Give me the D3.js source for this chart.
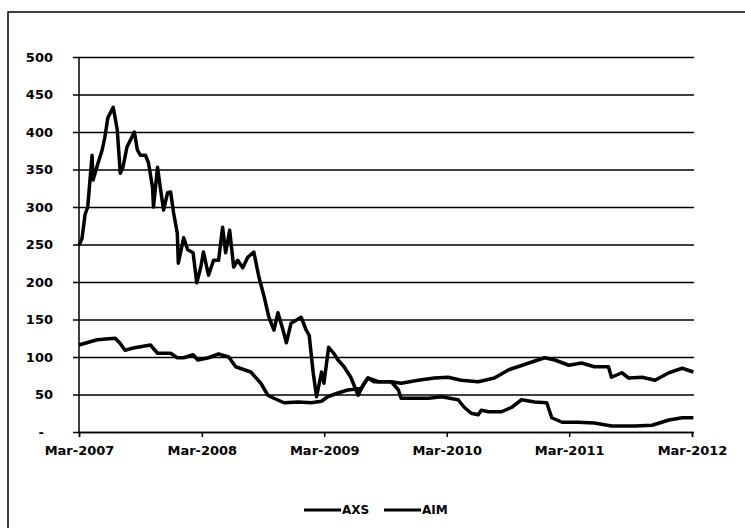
<!DOCTYPE html>
<html>
<head>
<meta charset="utf-8">
<script src="https://cdn.jsdelivr.net/npm/d3@7"></script>
<style>
  body { margin: 0; background: #fff; }
  text { font-family: "DejaVu Sans", Verdana, sans-serif; font-weight: bold; fill: #000; }
</style>
</head>
<body>
<div id="chart"></div>
<script>
// AXS closing levels
const axsDates = ["2007-03-01","2007-03-10","2007-03-19","2007-03-27","2007-04-09","2007-04-12","2007-04-27","2007-05-09","2007-05-17","2007-05-26",
  "2007-06-11","2007-06-23","2007-07-02","2007-07-10","2007-07-22","2007-08-01","2007-08-13","2007-08-22","2007-08-31","2007-09-15",
  "2007-09-24","2007-10-06","2007-10-09","2007-10-21","2007-10-29","2007-11-08","2007-11-20","2007-11-29","2007-12-08","2007-12-19",
  "2007-12-22","2008-01-07","2008-01-19","2008-02-04","2008-02-15","2008-02-27","2008-03-06","2008-03-21","2008-04-05","2008-04-20",
  "2008-05-02","2008-05-11","2008-05-23","2008-06-04","2008-06-16","2008-07-01","2008-07-16","2008-08-03","2008-08-18","2008-09-03",
  "2008-09-17","2008-10-02","2008-10-14","2008-10-29","2008-11-08","2008-11-22","2008-12-07","2008-12-22","2009-01-06","2009-01-15",
  "2009-01-27","2009-02-06","2009-02-21","2009-02-28","2009-03-14","2009-03-29","2009-04-11","2009-04-29","2009-05-19","2009-06-10",
  "2009-06-25","2009-07-09","2009-08-09","2009-09-17","2009-10-08","2009-10-16","2009-11-25","2010-01-06","2010-02-14","2010-04-04",
  "2010-04-22","2010-05-13","2010-06-03","2010-06-12","2010-07-03","2010-08-11","2010-09-11","2010-10-10","2010-11-18","2010-12-24",
  "2011-01-08","2011-02-08","2011-03-28","2011-05-15","2011-07-05","2011-09-13","2011-11-03","2011-12-23","2012-02-01","2012-03-05"];
const axsValues = [249,258,290,300,369,336,359,376,393,419,
  433,403,345,353,380,389,400,376,369,369,
  359,327,300,353,327,296,319,320,292,265,
  225,259,243,239,199,220,240,209,229,229,
  273,239,269,220,229,219,233,240,207,180,
  153,136,159,136,119,145,149,153,136,129,
  79,47,80,65,113,105,96,87,73,49,
  63,72,67,67,56,45,45,45,47,43,
  33,25,23,29,27,27,33,43,40,39,
  19,13,13,12,8,8,9,16,19,19];

// AIM closing levels
const aimDates = ["2007-03-01","2007-04-24","2007-06-17","2007-07-02","2007-07-16","2007-08-10","2007-09-30","2007-10-21","2007-11-29","2007-12-19",
  "2008-01-07","2008-02-04","2008-02-18","2008-03-21","2008-04-20","2008-05-20","2008-06-10","2008-07-25","2008-08-24","2008-09-14",
  "2008-10-02","2008-11-01","2008-12-13","2009-01-21","2009-02-21","2009-03-11","2009-04-11","2009-05-10","2009-06-19","2009-07-09",
  "2009-07-27","2009-09-17","2009-10-16","2009-12-06","2010-01-23","2010-03-05","2010-04-13","2010-06-03","2010-07-21","2010-09-02",
  "2010-11-01","2010-12-18","2011-01-17","2011-02-28","2011-04-07","2011-05-15","2011-06-26","2011-07-05","2011-08-05","2011-08-25",
  "2011-10-04","2011-11-12","2011-12-23","2012-02-01","2012-03-05"];
const aimValues = [116,123,125,118,109,112,116,105,105,99,
  99,103,96,99,104,100,87,80,65,49,
  45,39,40,39,41,47,52,56,58,72,
  67,67,65,69,72,73,69,67,72,83,
  92,99,96,89,92,87,87,73,79,72,
  73,69,79,85,80];

const seriesNames = ["AXS", "AIM"];
const yTicks = [0, 50, 100, 150, 200, 250, 300, 350, 400, 450, 500];
const xTickDates = ["2007-03-01","2008-03-01","2009-03-01","2010-03-01","2011-03-01","2012-03-01"];

const parse = d3.timeParse("%Y-%m-%d");
const axs = axsDates.map((d, i) => ({ date: parse(d), value: axsValues[i] }));
const aim = aimDates.map((d, i) => ({ date: parse(d), value: aimValues[i] }));

const width = 745, height = 528;
const margin = { top: 57, right: 53, bottom: 96, left: 79 };
const contentWidth = width - margin.left - margin.right;
const contentHeight = height - margin.top - margin.bottom;

const svg = d3.select("#chart").append("svg")
  .attr("width", width)
  .attr("height", height);

// outer frame (runs off the page on right and bottom)
svg.append("rect")
  .attr("x", 8).attr("y", 12)
  .attr("width", 760).attr("height", 540)
  .attr("fill", "none").attr("stroke", "#000").attr("stroke-width", 1.5);

const g = svg.append("g").attr("transform", `translate(${margin.left},${margin.top})`);

const xScale = d3.scaleTime()
  .domain([parse("2007-03-01"), parse("2012-03-01")])
  .range([0, contentWidth]);
const yScale = d3.scaleLinear().domain([0, 500]).range([contentHeight, 0]);

// horizontal gridlines + y labels
const yAxis = d3.axisLeft(yScale)
  .tickValues(yTicks)
  .tickSize(-contentWidth - 6)
  .tickPadding(20)
  .tickFormat(d => d === 0 ? "-\u2002\u2009" : d);

g.append("g")
  .attr("class", "y-axis")
  .attr("transform", "translate(-6,0)")
  .call(yAxis)
  .call(s => s.select(".domain").remove())
  .call(s => s.selectAll(".tick line").attr("stroke", "#000").attr("stroke-width", 1.5).attr("x1", 0).attr("x2", contentWidth + 8))
  .call(s => s.selectAll(".tick text").style("font-size", "13px").style("white-space", "pre"));

// vertical axis line
g.append("line")
  .attr("x1", 0).attr("x2", 0)
  .attr("y1", 0).attr("y2", contentHeight)
  .attr("stroke", "#000").attr("stroke-width", 1.5);

const xAxis = d3.axisBottom(xScale)
  .tickValues(xTickDates.map(parse))
  .tickSize(5)
  .tickPadding(9)
  .tickFormat(d3.timeFormat("%b-%Y"));

g.append("g")
  .attr("class", "x-axis")
  .attr("transform", `translate(0,${contentHeight})`)
  .call(xAxis)
  .call(s => s.select(".domain").attr("stroke", "#000").attr("stroke-width", 1.5))
  .call(s => s.selectAll(".tick line").attr("stroke", "#000").attr("stroke-width", 1.5))
  .call(s => s.selectAll(".tick text").style("font-size", "13px"));

const line = d3.line()
  .x(d => xScale(d.date))
  .y(d => yScale(d.value));

g.append("path").datum(aim)
  .attr("d", line)
  .attr("fill", "none").attr("stroke", "#000").attr("stroke-width", 3.5)
  .attr("stroke-linejoin", "round");

g.append("path").datum(axs)
  .attr("d", line)
  .attr("fill", "none").attr("stroke", "#000").attr("stroke-width", 3.5)
  .attr("stroke-linejoin", "round");

// legend
const legend = svg.append("g").attr("transform", "translate(304,510)");
const legendItems = legend.selectAll("g")
  .data(seriesNames)
  .enter().append("g")
  .attr("transform", (d, i) => `translate(${i * 80},0)`);
legendItems.append("line")
  .attr("x1", 0).attr("x2", 37).attr("y1", 0).attr("y2", 0)
  .attr("stroke", "#000").attr("stroke-width", 3);
legendItems.append("text")
  .attr("x", 38).attr("dy", "0.35em")
  .style("font-size", "12px")
  .text(d => d);
</script>
</body>
</html>
